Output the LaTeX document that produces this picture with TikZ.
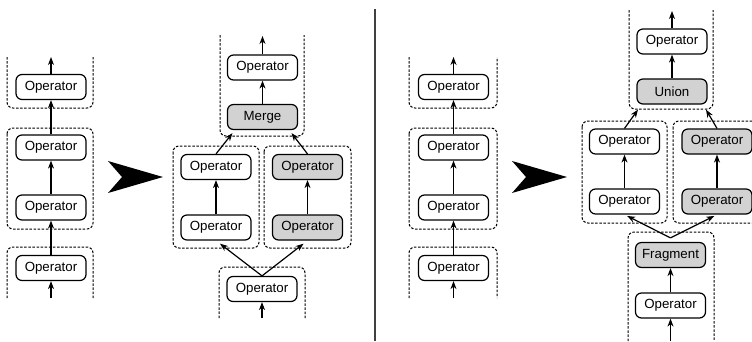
\documentclass[tikz,border=0pt]{standalone}
\usepackage{fontspec}
\setmainfont{Liberation Sans}
\usepackage{tikz}
\usetikzlibrary{arrows.meta, positioning}

\tikzset{
  op/.style={draw, rounded corners=6pt, line width=1.2pt, minimum width=70pt, minimum height=25pt, inner sep=0pt, font=\fontsize{13.3}{15}\selectfont},
  opg/.style={op, fill=gray!35},
  grp/.style={dash pattern=on 2.5pt off 1.6pt, line width=1pt, rounded corners=6pt},
  flow/.style={-{Stealth[length=8pt,width=6pt,inset=2.5pt]}, line width=1.2pt},
  big/.style={fill=black}
}

\begin{document}
\begin{tikzpicture}[x=1pt,y=-1pt]
\useasboundingbox (0,0) rectangle (752,341);

\draw[grp] (7,57) -- (7,108) -- (93,108) -- (93,57);
\draw[grp] (7,128) rectangle (93,229);
\draw[grp] (7,298) -- (7,247) -- (93,247) -- (93,298);
\node[op] (a1) at (51,87) {Operator};
\node[op] (a2) at (51,147.5) {Operator};
\node[op] (a3) at (51,207.5) {Operator};
\node[op] (a4) at (51,268) {Operator};
\coordinate (atop) at (51,57);
\coordinate (abot) at (51,298);
\draw[flow] (a1) -- (atop);
\draw[flow] (a2) -- (a1);
\draw[flow] (a3) -- (a2);
\draw[flow] (a4) -- (a3);
\draw[flow] (abot) -- (a4);

\fill[big] (108,161) -- (163,177) -- (108,193) -- (122,177) -- cycle;

\draw[grp] (220,35) -- (220,136) -- (304,136) -- (304,35);
\draw[grp] (173,146) rectangle (259,248);
\draw[grp] (264,146) rectangle (351,248);
\draw[grp] (219,318) -- (219,267) -- (305,267) -- (305,318);
\node[op] (mtop) at (262.5,67.5) {Operator};
\node[opg] (merge) at (262.5,117) {Merge};
\node[op] (mL2) at (216,167) {Operator};
\node[op] (mL1) at (216,227.5) {Operator};
\node[opg] (mR2) at (307.5,167) {Operator};
\node[opg] (mR1) at (307.5,227.5) {Operator};
\node[op] (mbot) at (262,289) {Operator};
\coordinate (mtopend) at (262.5,36);
\coordinate (mbotend) at (262,318);
\draw[flow] (mtop) -- (mtopend);
\draw[flow] (merge) -- (mtop);
\draw[flow] (mL2.north) -- ([xshift=-30pt,yshift=-3pt]merge.south);
\draw[flow] (mR2.north) -- ([xshift=29pt,yshift=-3pt]merge.south);
\draw[flow] (mL1) -- (mL2);
\draw[flow] (mR1) -- (mR2);
\draw[flow, shorten >=5pt] (mbot.north) -- (mL1.south);
\draw[flow, shorten >=5pt] (mbot.north) -- (mR1.south);
\draw[flow] (mbotend) -- (mbot);

\draw[black!75, line width=1.3pt] (375,9) -- (375,341);

\draw[grp] (409,57) -- (409,108) -- (497,108) -- (497,57);
\draw[grp] (409,128) rectangle (497,229);
\draw[grp] (409,298) -- (409,247) -- (497,247) -- (497,298);
\node[op] (c1) at (453.5,87) {Operator};
\node[op] (c2) at (453.5,147.5) {Operator};
\node[op] (c3) at (453.5,207.5) {Operator};
\node[op] (c4) at (453.5,268) {Operator};
\coordinate (ctop) at (453.5,57);
\coordinate (cbot) at (453.5,298);
\draw[flow] (c1) -- (ctop);
\draw[flow] (c2) -- (c1);
\draw[flow] (c3) -- (c2);
\draw[flow] (c4) -- (c3);
\draw[flow] (cbot) -- (c4);

\fill[big] (512,161) -- (567,177) -- (512,193) -- (526,177) -- cycle;

\draw[grp] (629,10) -- (629,109) -- (713,109) -- (713,10);
\draw[grp] (582,121) rectangle (667,223);
\draw[grp] (673,121) rectangle (759,223);
\draw[grp] (628,341) -- (628,232) -- (714,232) -- (714,341);
\node[op] (rtop) at (672,41.5) {Operator};
\node[opg] (union) at (672,91.5) {Union};
\node[op] (rL2) at (624.5,141.5) {Operator};
\node[op] (rL1) at (624.5,201.5) {Operator};
\node[opg] (rR2) at (717,141.5) {Operator};
\node[opg] (rR1) at (717,201.5) {Operator};
\node[opg] (frag) at (670.5,255) {Fragment};
\node[op] (rbot) at (670.5,305.5) {Operator};
\coordinate (rtopend) at (672,11);
\coordinate (rbotend) at (670.5,341);
\draw[flow] (rtop) -- (rtopend);
\draw[flow] (union) -- (rtop);
\draw[flow] (rL2.north) -- ([xshift=-34pt,yshift=-5pt]union.south);
\draw[flow] (rR2.north) -- ([xshift=34pt,yshift=-5pt]union.south);
\draw[flow] (rL1) -- (rL2);
\draw[flow] (rR1) -- (rR2);
\draw[flow, shorten >=3pt] ([yshift=4pt]frag.north) -- (rL1.south);
\draw[flow, shorten >=3pt] ([yshift=4pt]frag.north) -- (rR1.south);
\draw[flow] (rbot) -- (frag);
\draw[flow] (rbotend) -- (rbot);
\end{tikzpicture}
\end{document}
